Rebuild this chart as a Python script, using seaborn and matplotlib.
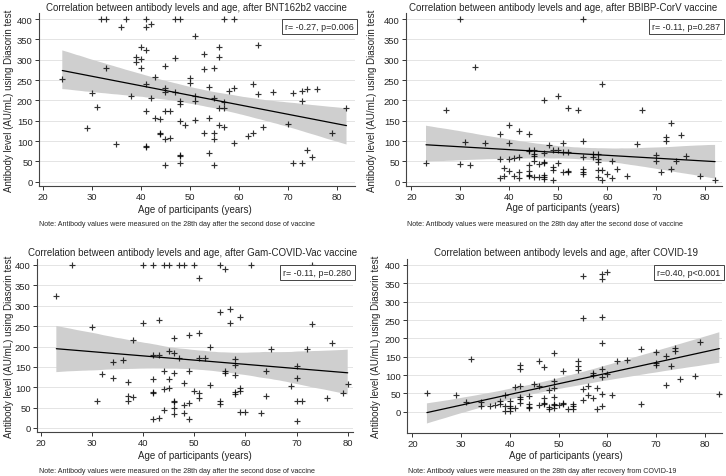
import numpy as np
import pandas as pd
import seaborn as sns
import matplotlib.pyplot as plt
from matplotlib.collections import PolyCollection

# BNT162b2 panel
bnt_age = [32, 33, 37, 41, 47, 48, 57, 59, 36, 41, 42, 51, 64, 40, 41, 56, 53, 39, 40, 39,
           47, 56, 45, 40, 33, 53, 55, 43, 50, 50, 24, 41, 45, 45, 54, 59, 63, 58, 47, 30,
           38, 42, 51, 51, 55, 48, 48, 64, 67, 71, 73, 74, 76, 73, 57, 56, 57, 82, 31, 41,
           45, 46, 43, 44, 54, 51, 48, 49, 56, 57, 65, 70, 29, 44, 44, 53, 55, 55, 62, 63,
           79, 45, 46, 35, 41, 41, 59, 54, 48, 48, 74, 75, 48, 45, 55, 71, 73]
bnt_level = [400, 400, 400, 400, 400, 400, 400, 400, 381, 380, 387, 357, 336, 330, 324, 330, 313, 307, 302, 295,
             305, 307, 285, 279, 279, 277, 280, 257, 256, 243, 252, 240, 230, 220, 232, 231, 239, 224, 220, 217,
             211, 205, 211, 198, 207, 198, 190, 216, 220, 218, 224, 229, 227, 198, 195, 180, 180, 180, 183, 174,
             174, 174, 156, 154, 157, 152, 150, 139, 139, 135, 134, 143, 131, 120, 118, 120, 120, 106, 113, 120,
             120, 106, 108, 93, 88, 85, 95, 70, 66, 63, 79, 61, 46, 40, 42, 45, 47]

# BBIBP-CorV panel
bbi_age = [30, 55, 33, 59, 50, 47, 27, 52, 54, 67, 73, 40, 42, 44, 38, 72, 72, 75, 31, 35,
           40, 55, 48, 51, 66, 44, 44, 45, 45, 49, 50, 47, 51, 52, 57, 57, 58, 58, 58, 23,
           30, 32, 38, 40, 41, 42, 44, 44, 44, 44, 45, 47, 47, 50, 55, 61, 70, 70, 74, 76,
           39, 40, 42, 49, 49, 51, 52, 52, 55, 55, 55, 58, 59, 62, 60, 73, 71, 64, 79, 82,
           38, 39, 41, 42, 45, 46, 47, 47, 47, 49, 58, 59, 61, 46, 45]
bbi_level = [400, 400, 281, 240, 211, 202, 177, 180, 176, 177, 145, 140, 125, 118, 118, 111, 101, 115, 97, 96,
             95, 101, 89, 95, 93, 78, 75, 77, 68, 78, 78, 71, 72, 72, 68, 60, 67, 56, 48, 47,
             43, 40, 55, 56, 58, 60, 40, 27, 16, 13, 50, 48, 46, 47, 61, 51, 65, 52, 51, 63,
             34, 26, 23, 35, 29, 24, 27, 23, 30, 23, 18, 28, 28, 32, 18, 30, 23, 15, 13, 3,
             10, 15, 13, 8, 11, 11, 16, 11, 6, 5, 11, 3, 8, 44, 63]

# Gam-COVID-Vac panel
gam_age = [26, 40, 42, 44, 45, 47, 48, 50, 55, 56, 61, 73, 51, 23, 55, 57, 59, 57, 40, 43,
           30, 73, 38, 46, 49, 51, 53, 65, 72, 77, 42, 43, 45, 46, 47, 51, 52, 58, 58, 58,
           56, 56, 64, 70, 70, 80, 69, 79, 76, 70, 71, 70, 32, 34, 36, 34, 37, 37, 37, 38,
           31, 42, 44, 44, 45, 45, 46, 49, 48, 42, 42, 50, 51, 51, 53, 58, 58, 59, 59, 55,
           55, 64, 46, 46, 46, 48, 49, 44, 46, 48, 42, 43, 49, 59, 60, 63]
gam_level = [400, 400, 400, 400, 400, 400, 400, 400, 400, 389, 400, 400, 369, 325, 285, 293, 272, 258, 258, 266,
             249, 256, 217, 221, 228, 233, 199, 195, 195, 209, 178, 179, 189, 184, 171, 172, 172, 170, 155, 130,
             139, 134, 141, 153, 123, 107, 104, 85, 73, 66, 66, 18, 133, 163, 168, 122, 114, 79, 66, 75,
             66, 120, 141, 96, 97, 120, 136, 141, 111, 89, 86, 90, 86, 74, 106, 89, 83, 97, 92, 66,
             59, 79, 66, 63, 50, 56, 61, 44, 34, 36, 22, 25, 22, 39, 39, 38]

# COVID-19 (recovered) panel
cov_age = [23, 29, 31, 32, 34, 34, 36, 37, 38, 38, 39, 39, 39, 40, 40, 40, 40, 41, 41, 42,
           42, 42, 42, 42, 42, 44, 44, 44, 44, 45, 46, 46, 46, 47, 47, 47, 47, 48, 48, 48,
           49, 49, 49, 49, 49, 49, 49, 50, 51, 51, 51, 52, 53, 53, 53, 54, 54, 54, 55, 55,
           55, 55, 56, 56, 57, 57, 57, 58, 58, 59, 59, 59, 59, 59, 59, 59, 59, 60, 60, 61,
           62, 64, 67, 67, 70, 70, 70, 72, 72, 73, 74, 74, 75, 78, 79, 83]
cov_level = [51, 46, 26, 145, 27, 15, 15, 19, 22, 30, 45, 15, 3, 30, 15, 10, 3, 10, 67, 71,
             126, 117, 40, 35, 24, 42, 20, 13, 10, 76, 71, 139, 17, 121, 38, 24, 22, 60, 12, 8,
             160, 84, 65, 40, 22, 17, 10, 17, 110, 24, 22, 6, 20, 15, 8, 137, 124, 113, 63, 33,
             255, 371, 69, 45, 106, 101, 36, 65, 6, 116, 94, 47, 15, 187, 258, 361, 376, 380, 103, 45,
             137, 142, 171, 21, 163, 133, 126, 153, 72, 124, 174, 166, 90, 96, 190, 47]

titles = ["Correlation between antibody levels and age, after BNT162b2 vaccine",
          "Correlation between antibody levels and age, after BBIBP-CorV vaccine",
          "Correlation between antibody levels and age, after Gam-COVID-Vac vaccine",
          "Correlation between antibody levels and age, after COVID-19"]
stats_labels = ["r= -0.27, p=0.006", "r= -0.11, p=0.287", "r= -0.11, p=0.280", "r=0.40, p<0.001"]
notes = ["Note: Antibody values were measured on the 28th day after the second dose of vaccine",
         "Note: Antibody values were measured on the 28th day after the second dose of vaccine",
         "Note: Antibody values were measured on the 28th day after the second dose of vaccine",
         "Note: Antibody values were measured on the 28th day after recovery from COVID-19"]
xticks = [20, 30, 40, 50, 60, 70, 80]
yticks = [0, 50, 100, 150, 200, 250, 300, 350, 400]

sns.set_style("white")
plt.rcParams['font.family'] = ['Liberation Sans', 'DejaVu Sans']

W, H = 726, 477
fig = plt.figure(figsize=(W / 100, H / 100), dpi=100)

# layout in pixels: axes box, pixel of x=20 / x=80, pixel of y=0 / y=400, text anchors
panels = [
    dict(box=(39, 14, 355, 186.5), xpx=(42.7, 336.7), ypx=(182.7, 20), ylab=(9, 101), title=(196, 8),
         xlab=(195, 210), note=(39, 225)),
    dict(box=(406, 14, 722, 186.5), xpx=(411.3, 705.3), ypx=(182.7, 20), ylab=(372, 101), title=(563, 8),
         xlab=(563, 208), note=(407, 225)),
    dict(box=(37, 260, 353, 433), xpx=(41, 347.7), ypx=(429, 266), ylab=(9, 347), title=(193, 253),
         xlab=(195, 456), note=(39, 472)),
    dict(box=(407, 260, 722, 434), xpx=(412.3, 704.7), ypx=(412.7, 266), ylab=(376, 347), title=(566, 253),
         xlab=(566, 456), note=(408, 472)),
]
data = [(bnt_age, bnt_level), (bbi_age, bbi_level), (gam_age, gam_level), (cov_age, cov_level)]

for i, (p, (age, level)) in enumerate(zip(panels, data)):
    l, t, r, b = p['box']
    ax = fig.add_axes([l / W, 1 - b / H, (r - l) / W, (b - t) / H])
    df = pd.DataFrame({'age': age, 'level': level})
    sns.regplot(data=df, x='age', y='level', ax=ax, ci=95, n_boot=2000, seed=1,
                marker='+', color='black',
                scatter_kws={'s': 24, 'linewidths': 0.85, 'zorder': 4},
                line_kws={'lw': 0.9, 'zorder': 3})
    for coll in ax.collections:
        if isinstance(coll, PolyCollection):
            coll.set_facecolor('#cfcfcf')
            coll.set_edgecolor('none')
            coll.set_alpha(1)
            coll.set_zorder(2)

    # limits from pixel mapping
    x20, x80 = p['xpx']
    sx = (x80 - x20) / 60
    ax.set_xlim(20 - (x20 - l) / sx, 80 + (r - x80) / sx)
    y0, y400 = p['ypx']
    sy = (y0 - y400) / 400
    ax.set_ylim(-(b - y0) / sy, 400 + (y400 - t) / sy)

    ax.set_xticks(xticks)
    ax.set_yticks(yticks)
    ax.set_xlabel('')
    ax.set_ylabel('')
    ax.tick_params(axis='both', labelsize=6.8, length=3, width=0.7, color='#333333', pad=1.5,
                   left=True, bottom=True)
    ax.yaxis.grid(True, color='#e4e4e4', lw=0.7, zorder=0)
    ax.set_axisbelow(True)
    for s in ['top', 'right']:
        ax.spines[s].set_visible(False)
    for s in ['left', 'bottom']:
        ax.spines[s].set_color('#444444')
        ax.spines[s].set_linewidth(0.8)

    ax.text(0.995, 0.95, stats_labels[i], transform=ax.transAxes, ha='right', va='top', fontsize=6.4,
            bbox=dict(boxstyle='square,pad=0.35', fc='white', ec='#444444', lw=0.7), zorder=6)

    fig.text(p['title'][0] / W, 1 - p['title'][1] / H, titles[i], ha='center', va='center', fontsize=7.0)
    fig.text(p['ylab'][0] / W, 1 - p['ylab'][1] / H, 'Antibody level (AU/mL) using Diasorin test',
             ha='center', va='center', rotation=90, fontsize=7.0)
    fig.text(p['xlab'][0] / W, 1 - p['xlab'][1] / H, 'Age of participants (years)',
             ha='center', va='center', fontsize=7.0)
    fig.text(p['note'][0] / W, 1 - p['note'][1] / H, notes[i], ha='left', va='center', fontsize=5.1)

fig.savefig('out.png', dpi=100)
